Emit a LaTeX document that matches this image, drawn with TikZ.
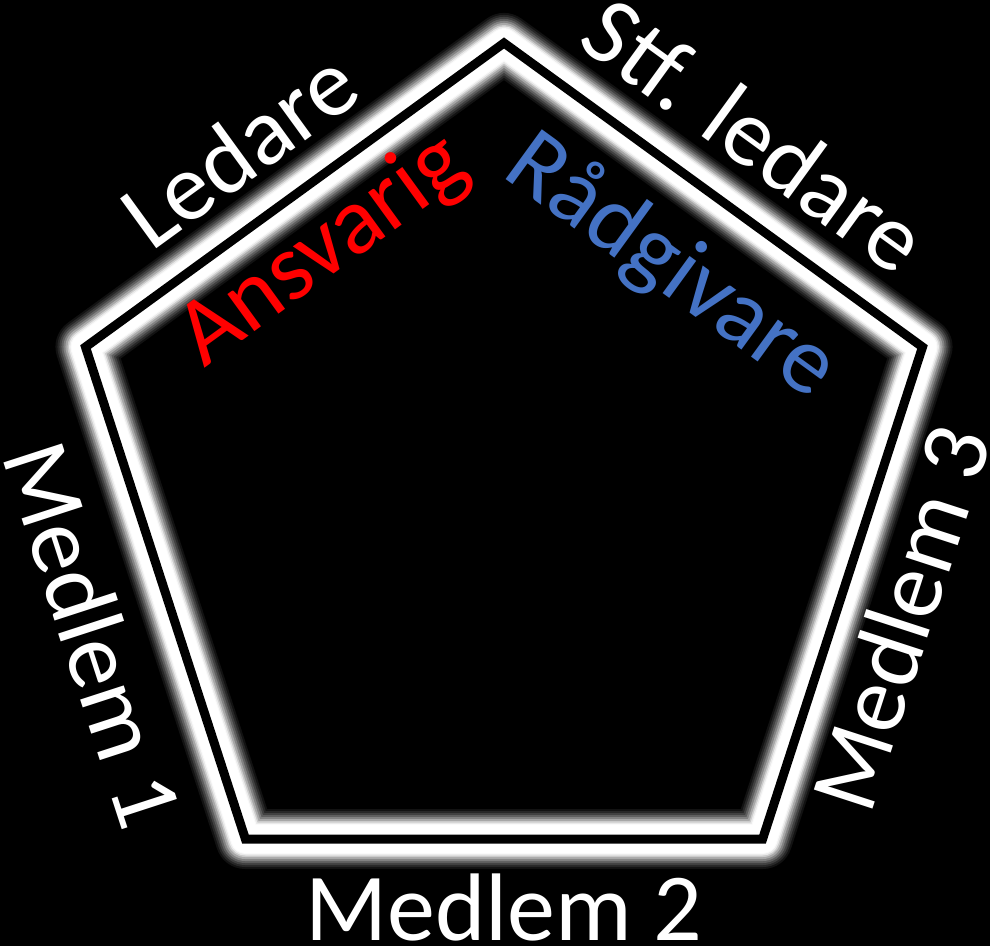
\documentclass[tikz,border=0pt]{standalone}
\usepackage{fontspec}
\setmainfont{Carlito}
\definecolor{advblue}{RGB}{68,114,196}
\begin{document}
\begin{tikzpicture}[x=1pt,y=-1pt,
  lbl/.style={text=white,font=\fontsize{96}{100}\selectfont,inner sep=0pt,text height=62pt,text depth=0pt,anchor=center},
  glow/.style={draw=white,line join=round,line width=#1}]
\fill[black] (0,0) rectangle (990,946);
\useasboundingbox (0,0) rectangle (990,946);
\path (504,483) ++(0,-440) coordinate (top)
      (504,483) ++(-418.5,-136) coordinate (lv)
      (504,483) ++(-258.6,356) coordinate (bl)
      (504,483) ++(258.6,356) coordinate (br)
      (504,483) ++(418.5,-136) coordinate (rv);
\foreach \w/\o in {60/0.07,56/0.09,52/0.12,48/0.16,44/0.22,40/0.3,36/0.42,33/0.6,30/0.8}{
  \draw[glow=\w pt,opacity=\o] (top) -- (rv) -- (br) -- (bl) -- (lv) -- cycle;
}
\draw[glow=28pt] (top) -- (rv) -- (br) -- (bl) -- (lv) -- cycle;
\draw[black,line width=9pt,line join=miter] (top) -- (rv) -- (br) -- (bl) -- (lv) -- cycle;
\node[lbl,rotate=36] (ledare) at (240,150) {Ledare};
\node[lbl,rotate=-36] (stf) at (754,136) {Stf. ledare};
\node[lbl,rotate=36,text=red] (ansv) at (320,246) {Ansvarig};
\node[lbl,rotate=-36,text=advblue] (radg) at (674,263) {Rådgivare};
\node[lbl,rotate=-72] (m1) at (92,635) {Medlem 1};
\node[lbl] (m2) at (504,909) {Medlem 2};
\node[lbl,rotate=72] (m3) at (902,618) {Medlem 3};
\end{tikzpicture}
\end{document}
